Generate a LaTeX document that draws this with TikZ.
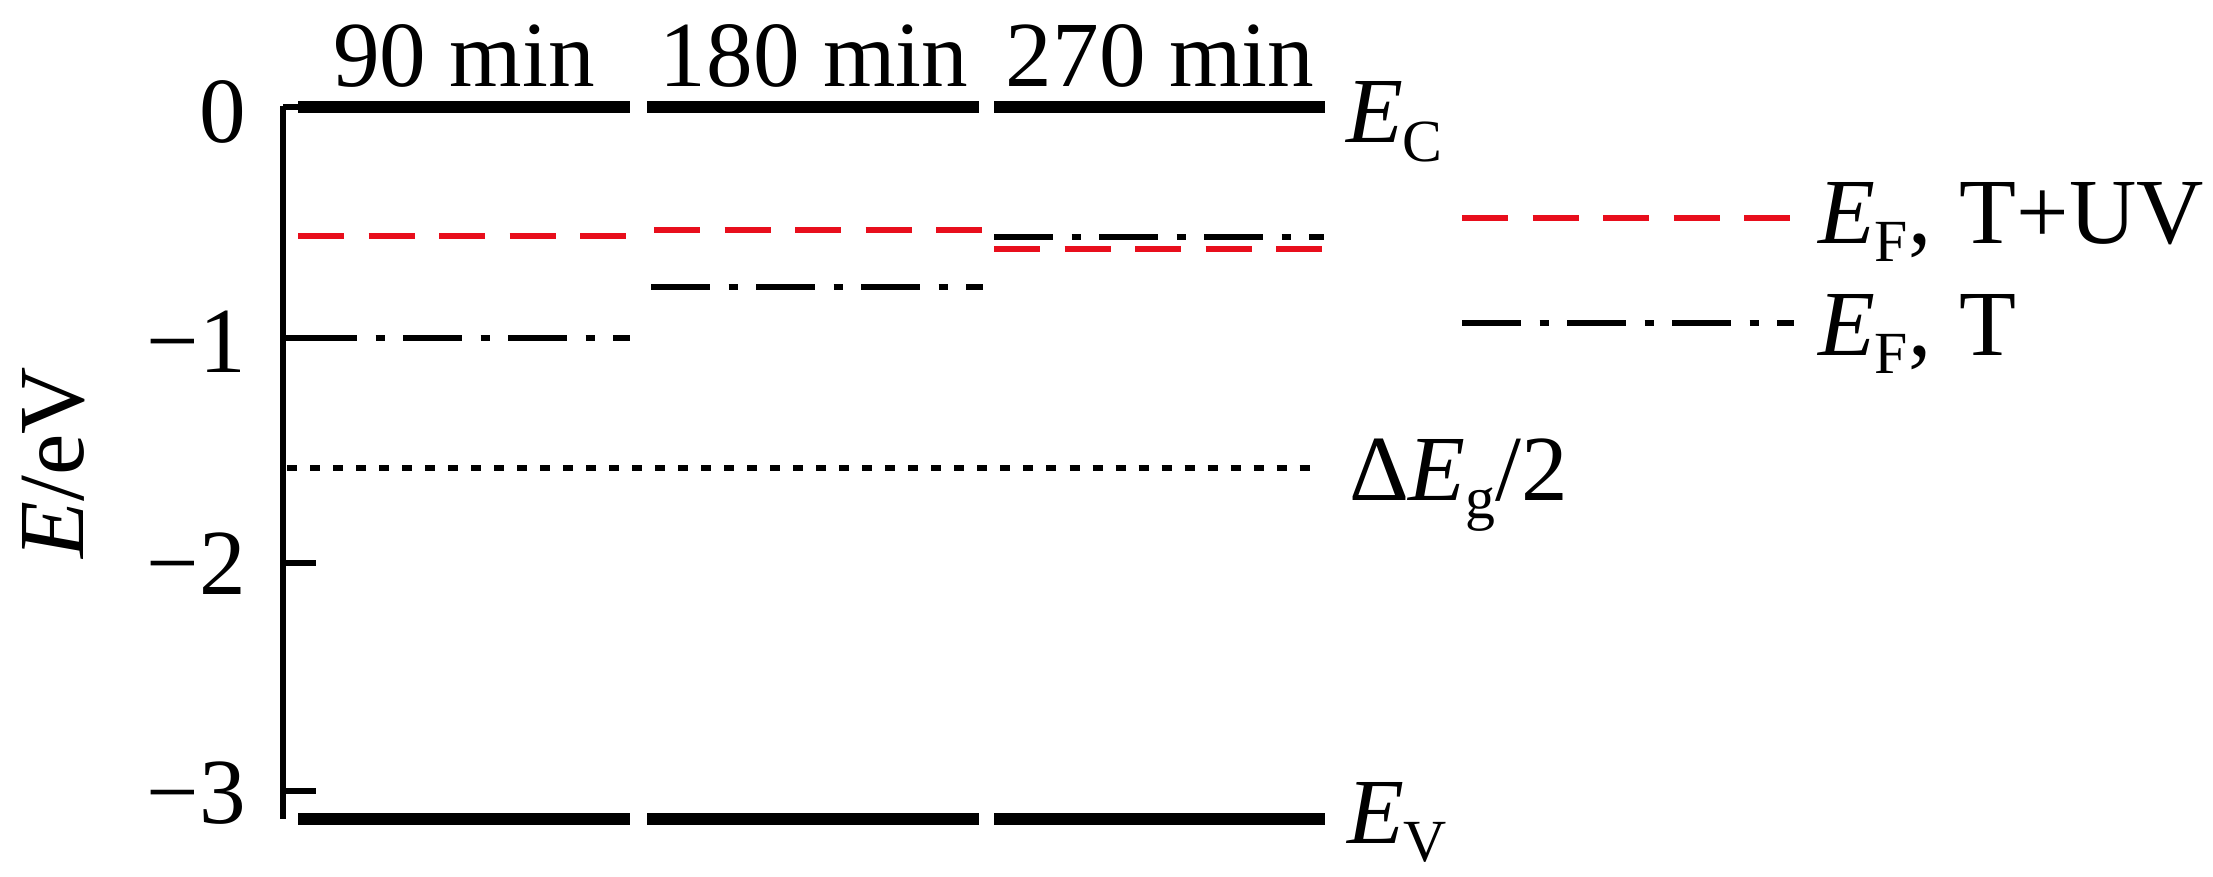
\documentclass[tikz,border=0pt]{standalone}
\usepackage{fontspec}
\setmainfont{Liberation Serif}
\newcommand{\lblfont}{\fontsize{26.5}{30}\selectfont}
\newcommand{\lsub}[1]{\raisebox{-0.18cm}{\fontsize{17}{17}\selectfont #1}}
\definecolor{lvlred}{RGB}{232,14,28}
\begin{document}
\begin{tikzpicture}[x=0.01cm,y=-0.01cm,
  lbl/.style={font=\lblfont,inner sep=0pt,outer sep=0pt},
  axisline/.style={line width=0.055cm,black},
  bandline/.style={line width=0.12cm,black},
  ferminuv/.style={line width=0.065cm,lvlred,dash pattern=on 0.46cm off 0.245cm},
  fermit/.style={line width=0.065cm,black,dash pattern=on 0.59cm off 0.185cm on 0.09cm off 0.185cm},
  midgap/.style={line width=0.06cm,black,dash pattern=on 0.10cm off 0.13cm}]
\useasboundingbox (0,0) rectangle (2213,876);
% axis and ticks
\draw[axisline] (283,106) -- (283,819);
\foreach \yy in {107,338,563,791} \draw[axisline] (283,\yy) -- (316,\yy);
% tick labels
\node[lbl,anchor=base east] (t0) at (246,143) {0};
\node[lbl,anchor=base east] (t1) at (246,372) {−1};
\node[lbl,anchor=base east] (t2) at (246,594) {−2};
\node[lbl,anchor=base east] (t3) at (246,823) {−3};
\node[lbl,anchor=base,rotate=90] (ylab) at (83,463) {\textit{E}/eV};
% column headers
\node[lbl,anchor=base] (h1) at (464,87) {90 min};
\node[lbl,anchor=base] (h2) at (814,87) {180 min};
\node[lbl,anchor=base] (h3) at (1160,87) {270 min};
% midgap
\draw[midgap] (287,468) -- (1315,468);
% band edges
\foreach \a/\b in {298/630,647/979,994/1325}{
  \draw[bandline] (\a,107) -- (\b,107);
  \draw[bandline] (\a,819) -- (\b,819);
}
% Fermi levels T+UV
\draw[ferminuv] (298,236) -- (630,236);
\draw[ferminuv] (654,230) -- (982,230);
\draw[ferminuv] (994,249) -- (1324,249);
% Fermi levels T
\draw[fermit] (298,338) -- (630,338);
\draw[fermit] (651,287) -- (983,287);
\draw[fermit] (994,237) -- (1324,237);
% right labels
\node[lbl,anchor=base west] (ec) at (1346,143) {\textit{E}\lsub{C}};
\node[lbl,anchor=base west] (ev) at (1347,843) {\textit{E}\lsub{V}};
\node[lbl,anchor=base west] (eg) at (1349,500) {Δ\textit{E}\lsub{g}/2};
% legend
\draw[ferminuv] (1462,218) -- (1794,218);
\draw[fermit] (1462,323) -- (1794,323);
\node[lbl,anchor=base west] (leg1) at (1818,243) {\textit{E}\lsub{F}, \kern0.05cm T+UV};
\node[lbl,anchor=base west] (leg2) at (1818,355) {\textit{E}\lsub{F}, \kern0.05cm T};
\end{tikzpicture}
\end{document}
